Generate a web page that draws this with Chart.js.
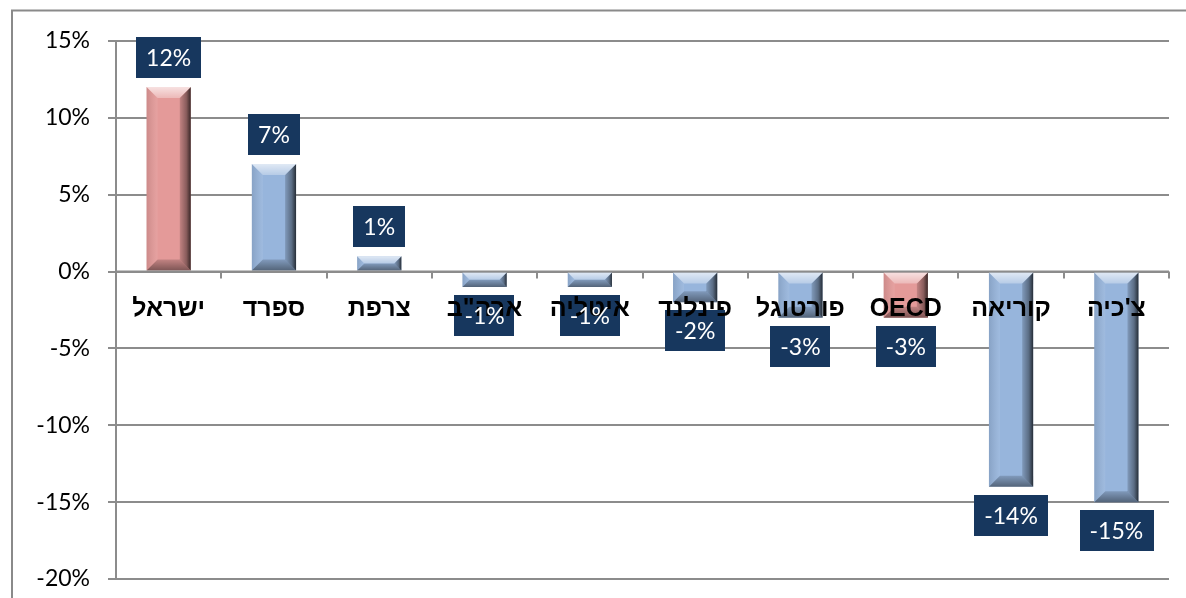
<!DOCTYPE html>
<html>
<head>
<meta charset="utf-8">
<script src="https://cdn.jsdelivr.net/npm/chart.js@4"></script>
<style>
html,body{margin:0;padding:0;background:#fff;}
canvas{display:block;}
</style>
</head>
<body>
<canvas id="c" width="1186" height="598"></canvas>
<script>
const categories = ['ישראל','ספרד','צרפת','ארה"ב','איטליה','פינלנד','פורטוגל','OECD','קוריאה',"צ'כיה"];
const values = [12, 7, 1, -1, -1, -2, -3, -3, -14, -15];
const highlighted = ['ישראל','OECD'];
const yTicks = [-20, -15, -10, -5, 0, 5, 10, 15];

const BLUE = '#97B5DC';
const PINK = '#E49A99';
const NAVY = '#17375E';
const GRID = '#8C8C8C';
const NUMFONT = '"Lato", "Open Sans", sans-serif';
const CATFONT = '"Liberation Sans", Arial, "DejaVu Sans", sans-serif';

function poly(ctx, pts){ctx.beginPath();ctx.moveTo(pts[0][0],pts[0][1]);for(let i=1;i<pts.length;i++)ctx.lineTo(pts[i][0],pts[i][1]);ctx.closePath();ctx.fill();}

const decor = {
  id:'decor',
  beforeDraw(chart){
    const ctx=chart.ctx;
    ctx.save();ctx.fillStyle='#fff';ctx.fillRect(0,0,chart.width,chart.height);ctx.restore();
  },
  afterDatasetsDraw(chart){
    const ctx=chart.ctx;
    const meta=chart.getDatasetMeta(0);
    const xs=chart.scales.x, ys=chart.scales.y;
    const y0=ys.getPixelForValue(0);
    ctx.save();
    // bevel overlays
    meta.data.forEach((bar)=>{
      const p=bar.getProps(['x','y','base','width'],true);
      const x0=p.x-p.width/2, x1=p.x+p.width/2;
      const top=Math.min(p.y,p.base), bot=Math.max(p.y,p.base);
      const h=bot-top, w=x1-x0;
      const b=Math.min(11,h/2,w/2);
      let g=ctx.createLinearGradient(x0,0,x0+b,0);
      g.addColorStop(0,'rgba(0,0,0,0.10)');g.addColorStop(1,'rgba(255,255,255,0.08)');
      ctx.fillStyle=g;
      poly(ctx,[[x0,top],[x0+b,top+b],[x0+b,bot-b],[x0,bot]]);
      g=ctx.createLinearGradient(x1-b,0,x1,0);
      g.addColorStop(0,'rgba(0,0,0,0.15)');g.addColorStop(0.6,'rgba(0,0,0,0.4)');g.addColorStop(1,'rgba(0,0,0,0.75)');
      ctx.fillStyle=g;
      poly(ctx,[[x1,top],[x1-b,top+b],[x1-b,bot-b],[x1,bot]]);
      g=ctx.createLinearGradient(0,top,0,top+b);
      g.addColorStop(0,'rgba(255,255,255,0.7)');g.addColorStop(1,'rgba(255,255,255,0.3)');
      ctx.fillStyle=g;
      poly(ctx,[[x0,top],[x1,top],[x1-b,top+b],[x0+b,top+b]]);
      g=ctx.createLinearGradient(0,bot-b,0,bot);
      g.addColorStop(0,'rgba(0,0,0,0.15)');g.addColorStop(1,'rgba(0,0,0,0.45)');
      ctx.fillStyle=g;
      poly(ctx,[[x0,bot],[x1,bot],[x1-b,bot-b],[x0+b,bot-b]]);
    });
    // x axis line + boundary ticks
    ctx.strokeStyle=GRID;ctx.lineWidth=2;
    ctx.beginPath();ctx.moveTo(xs.left,y0);ctx.lineTo(xs.right,y0);ctx.stroke();
    const n=categories.length;
    for(let i=0;i<=n;i++){
      const x=Math.round(xs.left+(xs.right-xs.left)*i/n);
      ctx.beginPath();ctx.moveTo(x,y0);ctx.lineTo(x,y0+7);ctx.stroke();
    }
    // data label boxes
    const boxes=[];
    ctx.font='23px '+NUMFONT;
    meta.data.forEach((bar,i)=>{
      const v=values[i];
      const txt=Math.round(v)+'%';
      const tw=ctx.measureText(txt).width;
      const bw=tw+20, bh=41;
      const by= v>=0 ? bar.y-9-bh : bar.y+8;
      ctx.fillStyle=NAVY;
      ctx.fillRect(Math.round(bar.x-bw/2),Math.round(by),Math.round(bw),bh);
      boxes.push([bar.x,by+bh/2,txt]);
    });
    // category labels
    ctx.fillStyle='#000';
    ctx.font='bold 25px '+CATFONT;
    ctx.textAlign='center';ctx.textBaseline='alphabetic';
    ctx.direction='rtl';
    categories.forEach((c,i)=>{
      ctx.fillText(c,xs.getPixelForValue(i),y0+44);
    });
    // value texts
    ctx.direction='ltr';
    ctx.fillStyle='#fff';
    ctx.font='23px '+NUMFONT;
    ctx.textBaseline='middle';
    boxes.forEach(([x,y,t])=>ctx.fillText(t,x,y+1));
    ctx.restore();
  },
  afterDraw(chart){
    const ctx=chart.ctx;
    ctx.save();
    ctx.strokeStyle='#8A8A8A';ctx.lineWidth=2;
    ctx.beginPath();ctx.moveTo(12,chart.height+5);ctx.lineTo(12,10.5);ctx.lineTo(chart.width+5,10.5);ctx.stroke();
    ctx.restore();
  }
};

new Chart(document.getElementById('c'),{
  type:'bar',
  data:{
    labels:categories,
    datasets:[{
      data:values,
      backgroundColor:categories.map(c=>highlighted.includes(c)?PINK:BLUE),
      borderWidth:0,
      barPercentage:0.42,
      categoryPercentage:1.0
    }]
  },
  options:{
    responsive:false,
    animation:false,
    devicePixelRatio:1,
    layout:{padding:{left:0,right:17,top:41,bottom:19}},
    plugins:{legend:{display:false},tooltip:{enabled:false}},
    scales:{
      x:{display:false},
      y:{
        min:-20,max:15,
        afterFit(s){s.width=116;s.paddingTop=0;s.paddingBottom=0;},
        afterBuildTicks(s){s.ticks=yTicks.map(v=>({value:v}));},
        border:{display:true,color:GRID,width:2},
        grid:{color:GRID,lineWidth:2,tickLength:8,drawTicks:true},
        ticks:{
          padding:18,
          color:'#000',
          font:{family:NUMFONT,size:23,lineHeight:0.5},
          callback:v=>v+'%'
        }
      }
    }
  },
  plugins:[decor]
});
</script>
</body>
</html>
